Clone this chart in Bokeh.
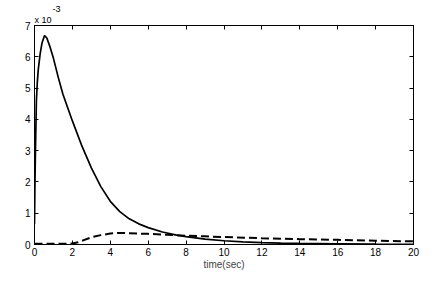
from bokeh.plotting import figure
from bokeh.models import Range1d, FixedTicker, LinearAxis, Title
from bokeh.embed import file_html
from bokeh.resources import INLINE

# values in units of 1e-3
t_solid = [0, 0.02, 0.05, 0.1, 0.15, 0.2, 0.3, 0.4, 0.53, 0.65, 0.8, 1.0, 1.25, 1.5, 2.0,
           2.5, 3.0, 3.5, 4.0, 4.5, 5.0, 5.5, 6.0, 6.75, 7.5, 8.0, 9.0, 10, 11, 12, 13,
           14, 16, 18, 20]
v_solid = [0.65, 1.8, 3.0, 4.6, 5.2, 5.6, 6.1, 6.45, 6.68, 6.6, 6.35, 5.95, 5.35, 4.8, 3.95,
           3.15, 2.45, 1.85, 1.38, 1.05, 0.82, 0.66, 0.54, 0.40, 0.30, 0.25, 0.17, 0.12, 0.085,
           0.06, 0.045, 0.035, 0.02, 0.01, 0.005]

t_dash = [0, 1, 2.0, 2.3, 2.6, 3.0, 3.5, 4.0, 4.5, 5, 6, 7, 8, 9, 10, 12, 14, 16, 18, 20]
v_dash = [0.02, 0.02, 0.03, 0.07, 0.14, 0.23, 0.30, 0.35, 0.37, 0.36, 0.34, 0.31, 0.28,
          0.26, 0.24, 0.20, 0.17, 0.15, 0.12, 0.10]

x_ticks = list(range(0, 21, 2))
y_ticks = list(range(0, 8))

FONT = "Liberation Sans"

p = figure(width=420, height=272, output_backend="svg", toolbar_location=None,
           title_location=None,
           x_range=Range1d(0, 20), y_range=Range1d(0, 7),
           min_border_left=34, min_border_right=7, min_border_top=25, min_border_bottom=26)
p.background_fill_color = "white"
p.border_fill_color = "white"
p.outline_line_color = "black"
p.outline_line_width = 1
p.xgrid.visible = False
p.ygrid.visible = False

def style_axis(ax, ticks, show_labels=True):
    ax.ticker = FixedTicker(ticks=ticks)
    ax.major_tick_in = 4
    ax.major_tick_out = 0
    ax.minor_tick_line_color = None
    ax.axis_line_color = "black"
    ax.major_tick_line_color = "black"
    ax.major_label_text_font = FONT
    ax.major_label_text_font_size = "10px" if show_labels else "0px"
    ax.major_label_text_color = "black"
    ax.major_label_text_line_height = 1.0
    if not show_labels:
        ax.major_label_standoff = 0

style_axis(p.xaxis[0], x_ticks)
style_axis(p.yaxis[0], y_ticks)
p.xaxis[0].major_label_standoff = 3
p.yaxis[0].major_label_standoff = 4
p.xaxis[0].axis_label = "time(sec)"
p.xaxis[0].axis_label_text_font = FONT
p.xaxis[0].axis_label_text_font_size = "10px"
p.xaxis[0].axis_label_text_font_style = "normal"
p.xaxis[0].axis_label_text_line_height = 1.0
p.xaxis[0].axis_label_standoff = 0

top_ax = LinearAxis()
style_axis(top_ax, x_ticks, show_labels=False)
p.add_layout(top_ax, "above")
right_ax = LinearAxis()
style_axis(right_ax, y_ticks, show_labels=False)
p.add_layout(right_ax, "right")

p.add_layout(Title(text="x 10", align="left", offset=0, standoff=2, text_font=FONT,
                   text_font_size="9px", text_font_style="normal", text_color="black"), "above")
p.add_layout(Title(text="-3", align="left", offset=18, standoff=0, text_font=FONT,
                   text_font_size="9px", text_font_style="normal", text_color="black"), "above")

p.line(t_solid, v_solid, line_color="black", line_width=1.7)
p.line(t_dash, v_dash, line_color="black", line_width=2, line_dash="8 4")

open("out.html", "w").write(file_html(p, INLINE))
